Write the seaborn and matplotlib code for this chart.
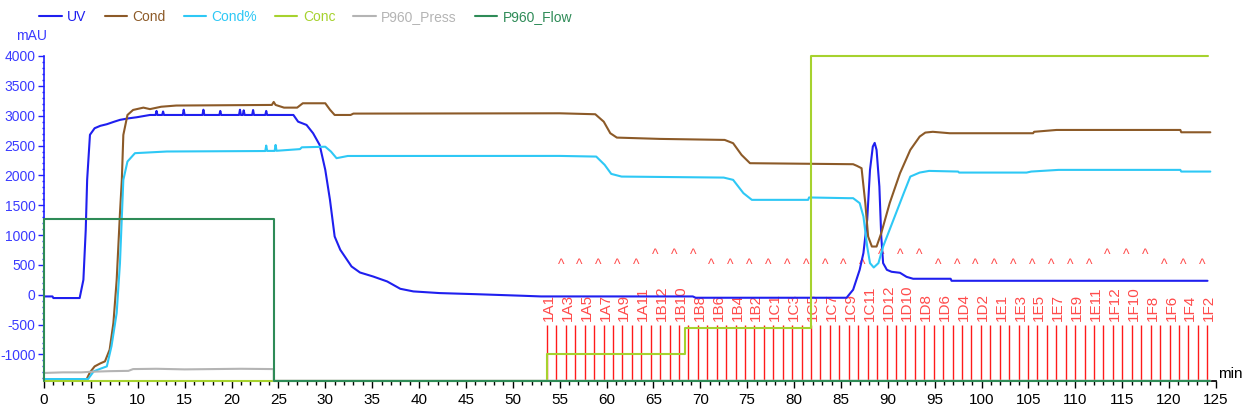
import numpy as np
import pandas as pd
import matplotlib
matplotlib.use("Agg")
import matplotlib.pyplot as plt
import seaborn as sns
from matplotlib.ticker import MultipleLocator

# ---- chromatogram traces (time in min, value in mAU scale) ----
uv_time = [0, 0.9, 1.0, 3.8, 4.2, 4.45, 4.6, 4.9, 5.4, 6.0, 6.7, 7.5, 8.1, 9.0, 9.9, 11.3,
           11.9, 12.0, 12.1, 12.6, 12.7, 12.8, 14.8, 14.9, 15.0, 16.9, 17.0, 17.1,
           18.7, 18.8, 18.9, 20.8, 20.9, 21.0, 21.2, 21.3, 21.4, 22.2, 22.3, 22.4,
           23.6, 23.7, 23.8, 26.6, 27.1, 28.0, 28.7, 29.4, 30.0, 30.5, 31.0, 31.6,
           32.8, 33.7, 35.1, 36.6, 38.0, 39.4, 42.2, 46.0, 51.1, 53.0, 69.2, 69.5,
           85.6, 86.3, 87.0, 87.4, 87.8, 88.1, 88.4, 88.6, 88.8, 89.1, 89.3, 89.5,
           89.9, 90.4, 91.3, 92.0, 92.7, 96.7, 96.8, 124.1]
uv_value = [-28, -28, -55, -55, 250, 1088, 1925, 2680, 2790, 2830, 2857, 2900, 2930, 2955, 2974, 3012,
            3012, 3080, 3012, 3012, 3070, 3012, 3012, 3100, 3012, 3012, 3100, 3012,
            3012, 3080, 3012, 3012, 3100, 3012, 3012, 3090, 3012, 3012, 3095, 3012,
            3012, 3080, 3012, 3012, 2900, 2845, 2706, 2510, 2092, 1590, 976, 753,
            474, 373, 306, 223, 100, 56, 28, 10, -17, -28, -28, -50,
            -50, 84, 418, 700, 1255, 2092, 2482, 2544, 2427, 1813, 976, 530,
            418, 385, 368, 300, 268, 268, 234, 234]

cond_time = [0, 4.55, 4.9, 5.4, 6.0, 6.5, 7.0, 7.4, 7.75, 8.1, 8.3, 8.46, 8.9, 9.5, 10.6, 11.3,
             12.5, 14.1, 24.3, 24.5, 24.7, 25.6, 27.0, 27.6, 30.0, 30.5, 31.0, 32.7, 33.0,
             55.0, 58.8, 59.7, 60.4, 61.1, 65.7, 72.6, 73.5, 74.4, 75.3, 86.3, 86.7, 87.2,
             87.6, 87.9, 88.3, 88.8, 89.3, 90.2, 91.3, 92.4, 93.4, 94.0, 94.8, 96.6,
             105.5, 105.6, 108.0, 121.2, 121.3, 124.4]
cond_value = [-1412, -1412, -1300, -1200, -1150, -1116, -920, -474, 250, 1367, 1925, 2678, 3012, 3096, 3135, 3110,
              3150, 3170, 3180, 3230, 3180, 3135, 3135, 3208, 3208, 3100, 3012, 3012, 3035,
              3040, 3024, 2900, 2706, 2633, 2611, 2594, 2539, 2343, 2204, 2187, 2160, 2120,
              1535, 976, 808, 808, 1032, 1535, 2036, 2427, 2650, 2717, 2730, 2706,
              2706, 2730, 2761, 2761, 2722, 2722]

condp_time = [0, 4.7, 5.3, 6.0, 6.7, 7.2, 7.75, 8.1, 8.46, 8.9, 9.7, 13.1, 23.6, 23.7, 23.8,
              24.6, 24.7, 24.8, 27.3, 27.5, 30.0, 30.6, 31.2, 32.4, 55.0, 58.9, 59.8, 60.5,
              61.6, 72.5, 73.5, 74.6, 75.5, 81.5, 81.6, 85.8, 86.3, 87.0, 87.4, 87.8, 88.1,
              88.5, 89.0, 89.5, 90.6, 91.7, 92.4, 93.4, 94.4, 97.5, 97.6, 104.8, 105.3,
              108.2, 121.2, 121.3, 124.4]
condp_value = [-1412, -1412, -1283, -1240, -1200, -860, -305, 530, 1925, 2232, 2372, 2400, 2408, 2500, 2410,
               2410, 2510, 2412, 2440, 2470, 2480, 2400, 2288, 2325, 2326, 2315, 2176, 2025,
               1980, 1963, 1925, 1702, 1590, 1590, 1630, 1618, 1618, 1535, 1311, 808, 530,
               457, 530, 808, 1255, 1702, 1980, 2047, 2075, 2064, 2047, 2047, 2064,
               2092, 2092, 2064, 2064]

conc_time = [0, 53.65, 68.4, 81.85, 124.1]
conc_value = [-1440, -990, -550, 4000, 4000]

press_time = [0, 2.0, 4.0, 5.0, 7.0, 9.0, 9.5, 12.0, 15.0, 18.0, 21.0, 24.5, 24.5, 124.4]
press_value = [-1310, -1300, -1300, -1290, -1280, -1275, -1245, -1240, -1250, -1245, -1240, -1245, -1440, -1440]

flow_time = [0, 0, 24.5, 124.4]
flow_value = [-1440, 1265, -1440, -1440]

# fraction marks
frac_time = [53.65, 54.66, 55.66, 56.67, 57.67, 58.68, 59.69, 60.69, 61.70, 62.70, 63.71, 64.72,
             65.72, 66.73, 67.73, 68.74, 69.75, 70.75, 71.76, 72.76, 73.77, 74.78, 75.78, 76.79,
             77.79, 78.80, 79.81, 80.81, 81.82, 82.82, 83.83, 84.84, 85.84, 86.85, 87.85, 88.86,
             89.87, 90.87, 91.88, 92.88, 93.89, 94.90, 95.90, 96.91, 97.91, 98.92, 99.93, 100.93,
             101.94, 102.94, 103.95, 104.96, 105.96, 106.97, 107.97, 108.98, 109.99, 110.99, 112.00,
             113.00, 114.01, 115.02, 116.02, 117.03, 118.03, 119.04, 120.05, 121.05, 122.06, 123.06,
             124.07]
frac_labels = ["1A1", "1A3", "1A5", "1A7", "1A9", "1A11", "1B12", "1B10", "1B8", "1B6", "1B4", "1B2",
               "1C1", "1C3", "1C5", "1C7", "1C9", "1C11", "1D12", "1D10", "1D8", "1D6", "1D4", "1D2",
               "1E1", "1E3", "1E5", "1E7", "1E9", "1E11", "1F12", "1F10", "1F8", "1F6", "1F4", "1F2"]

series = [
    ("UV", uv_time, uv_value, "#1f1fef", None),
    ("Cond", cond_time, cond_value, "#8c5a28", None),
    ("Cond%", condp_time, condp_value, "#2ec8f5", None),
    ("Conc", conc_time, conc_value, "#a6d22e", "steps-post"),
    ("P960_Press", press_time, press_value, "#b4b4b4", None),
    ("P960_Flow", flow_time, flow_value, "#2e8b57", "steps-post"),
]

sns.set_theme(style="white")
plt.rcParams["font.family"] = ["Liberation Sans Narrow", "Liberation Sans", "DejaVu Sans"]
plt.rcParams["axes.unicode_minus"] = False

fig = plt.figure(figsize=(12.47, 4.16), dpi=100)
ax = fig.add_axes([0.0353, 0.0841, 0.9398, 0.7813])

YMIN = -1445

# fractions (behind the curves)
ax.vlines(frac_time, YMIN, -510, color="#ff1a1a", lw=1, zorder=1)
for i, lab in enumerate(frac_labels):
    x = frac_time[2 * i]
    ax.text(x + 0.2, -445, lab, rotation=90, ha="center", va="bottom",
            color="#ff4b4b", fontsize=11, zorder=1)
    if 2 * i + 1 < len(frac_time):
        ax.annotate("^", xy=(frac_time[2 * i + 1] + 0.45, -445), xycoords="data",
                    xytext=(0, len(lab) * 7.2 + 14), textcoords="offset points",
                    ha="center", va="bottom", color="#ff4b4b", fontsize=10, zorder=1)

# injection mark
ax.vlines([0], YMIN, 1265, color="magenta", lw=1.2, linestyles=(0, (2, 2)), zorder=2)

for name, t, v, col, ds in series:
    df = pd.DataFrame({"t": t, "v": v})
    kw = {"drawstyle": ds} if ds else {}
    sns.lineplot(data=df, x="t", y="v", ax=ax, color=col, lw=1.5, label=name,
                 estimator=None, sort=False, clip_on=False, zorder=3, **kw)

ax.set_xlim(0, 125)
ax.set_ylim(YMIN, 4000)
ax.set_xlabel("")
ax.set_ylabel("")
ax.xaxis.set_major_locator(MultipleLocator(5))
ax.xaxis.set_minor_locator(MultipleLocator(1))
ax.set_yticks(range(-1000, 4001, 500))
ax.yaxis.set_minor_locator(MultipleLocator(100))
ax.tick_params(axis="x", which="major", length=5, width=1, color="black",
               labelsize=11, labelcolor="black", direction="out", bottom=True)
ax.tick_params(axis="x", which="minor", length=3, width=1, color="black", bottom=True)
ax.tick_params(axis="y", which="major", length=4, width=1, color="#2020ff", pad=2,
               labelsize=10, labelcolor="#3a3aff", direction="out", left=True)
ax.tick_params(axis="y", which="minor", length=1.5, width=1, color="#2020ff", left=True)
for s in ["top", "right"]:
    ax.spines[s].set_visible(False)
ax.spines["left"].set_color("#2020ff")
ax.spines["left"].set_linewidth(1.2)
ax.spines["bottom"].set_color("black")

ax.text(1.012, 0.0, "min", transform=ax.transAxes, ha="center", va="bottom",
        fontsize=11, color="black")
fig.text(0.013, 0.905, "mAU", color="#3a3aff", fontsize=10)

leg = ax.legend(loc="center left", bbox_to_anchor=(-0.004, 1.12), ncol=6, frameon=False,
                handlelength=1.6, handletextpad=0.4, columnspacing=1.3, fontsize=10,
                borderaxespad=0, borderpad=0)
for txt, (_, _, _, col, _) in zip(leg.get_texts(), series):
    txt.set_color(col)

fig.savefig("out.png", dpi=100)
